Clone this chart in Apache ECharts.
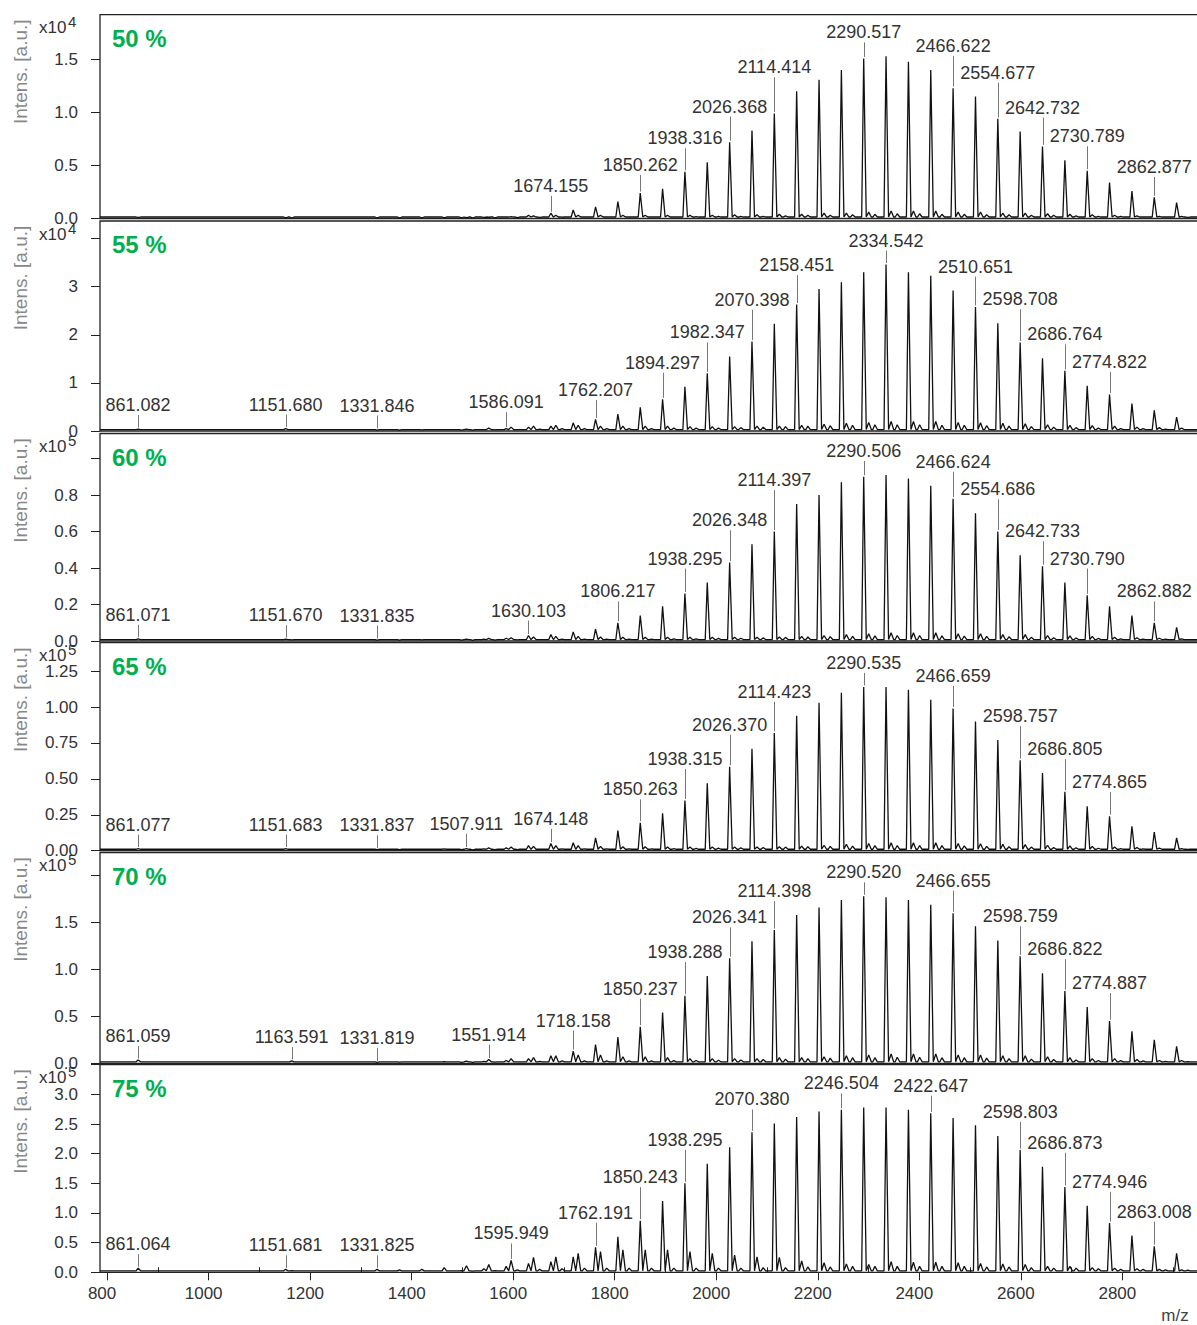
<!DOCTYPE html>
<html><head><meta charset="utf-8">
<script src="https://cdn.jsdelivr.net/npm/echarts@6/dist/echarts.min.js"></script>
<style>html,body{margin:0;padding:0;background:#fff}#c{width:1197px;height:1325px}</style>
</head><body><div id="c"></div>
<script>
// ---------------- DATA ----------------
// main oligomer series (m/z)
const mainMz = [1498.0, 1542.1, 1586.1, 1630.1, 1674.2, 1718.2, 1762.2, 1806.2, 1850.3, 1894.3, 1938.3, 1982.3, 2026.4, 2070.4, 2114.4, 2158.4, 2202.5, 2246.5, 2290.5, 2334.5, 2378.6, 2422.6, 2466.6, 2510.7, 2554.7, 2598.7, 2642.7, 2686.8, 2730.8, 2774.8, 2818.9, 2862.9, 2906.9];
// satellite (adduct) series (m/z)
const satMz = [1331.8, 1375.8, 1419.9, 1463.9, 1507.9, 1551.9, 1595.9, 1640.0, 1684.0, 1728.0, 1772.0, 1816.1, 1860.1, 1904.1, 1948.2, 1992.2, 2036.2, 2080.3, 2124.3, 2168.3, 2212.4, 2256.4, 2300.4, 2344.5, 2388.5, 2432.5, 2476.6, 2520.6, 2564.6, 2608.7, 2652.7, 2696.7, 2740.8, 2784.8, 2828.8, 2872.9, 2916.9];
// second, weaker satellite series (m/z)
const sat2Mz = [1520.0, 1564.1, 1608.1, 1652.1, 1696.2, 1740.2, 1784.2, 1828.2, 1872.3, 1916.3, 1960.3, 2004.3, 2048.4, 2092.4, 2136.4, 2180.4, 2224.5, 2268.5, 2312.5, 2356.5, 2400.6, 2444.6, 2488.6, 2532.7, 2576.7, 2620.7, 2664.7, 2708.8, 2752.8, 2796.8, 2840.9, 2884.9, 2928.9];
// isolated low-mass peaks (m/z)
const otherMz = [861.07, 1151.68, 1163.59];

// intensities (in units of the panel's axis multiplier)
const main50 = [0.005, 0.01, 0.015, 0.03, 0.05, 0.08, 0.11, 0.16, 0.24, 0.28, 0.44, 0.53, 0.72, 0.83, 0.99, 1.20, 1.31, 1.40, 1.51, 1.53, 1.48, 1.40, 1.23, 1.15, 0.94, 0.82, 0.68, 0.55, 0.45, 0.34, 0.26, 0.20, 0.15];
const main55 = [0.02, 0.03, 0.05, 0.08, 0.10, 0.17, 0.24, 0.35, 0.49, 0.66, 0.92, 1.20, 1.55, 1.86, 2.23, 2.63, 2.95, 3.09, 3.30, 3.46, 3.30, 3.23, 2.92, 2.58, 2.24, 1.84, 1.51, 1.25, 0.94, 0.76, 0.57, 0.43, 0.29];
const main60 = [0.005, 0.01, 0.015, 0.03, 0.035, 0.05, 0.065, 0.10, 0.14, 0.19, 0.26, 0.32, 0.43, 0.53, 0.60, 0.75, 0.80, 0.87, 0.90, 0.91, 0.89, 0.85, 0.78, 0.70, 0.60, 0.47, 0.41, 0.32, 0.25, 0.19, 0.14, 0.10, 0.075];
const main65 = [0.008, 0.012, 0.02, 0.035, 0.05, 0.055, 0.09, 0.14, 0.195, 0.26, 0.35, 0.47, 0.585, 0.71, 0.82, 0.94, 1.03, 1.10, 1.14, 1.14, 1.12, 1.05, 0.99, 0.90, 0.77, 0.63, 0.54, 0.41, 0.31, 0.24, 0.17, 0.13, 0.09];
const main70 = [0.01, 0.02, 0.03, 0.05, 0.08, 0.13, 0.20, 0.28, 0.39, 0.54, 0.72, 0.93, 1.12, 1.30, 1.42, 1.58, 1.66, 1.74, 1.78, 1.77, 1.74, 1.69, 1.60, 1.46, 1.31, 1.14, 0.96, 0.77, 0.60, 0.45, 0.34, 0.25, 0.18];
const main75 = [0.03, 0.06, 0.10, 0.15, 0.18, 0.26, 0.42, 0.60, 0.87, 1.20, 1.50, 1.83, 2.11, 2.36, 2.51, 2.62, 2.71, 2.74, 2.78, 2.78, 2.74, 2.68, 2.60, 2.48, 2.30, 2.06, 1.78, 1.44, 1.12, 0.83, 0.62, 0.44, 0.32];

const sat50 = [0.005, 0.004, 0.005, 0.006, 0.008, 0.012, 0.018, 0.025, 0.03, 0.03, 0.03, 0.03, 0.03, 0.03, 0.03, 0.03, 0.035, 0.035, 0.04, 0.04, 0.05, 0.05, 0.06, 0.07, 0.07, 0.07, 0.06, 0.06, 0.05, 0.05, 0.045, 0.04, 0.035, 0.03, 0.025, 0.02, 0.02];
const sat55 = [0.02, 0.02, 0.025, 0.03, 0.04, 0.06, 0.08, 0.10, 0.12, 0.12, 0.10, 0.10, 0.10, 0.10, 0.09, 0.09, 0.09, 0.10, 0.10, 0.12, 0.14, 0.16, 0.18, 0.20, 0.20, 0.20, 0.18, 0.17, 0.16, 0.15, 0.13, 0.12, 0.11, 0.10, 0.08, 0.07, 0.06];
const sat60 = [0.005, 0.005, 0.006, 0.008, 0.01, 0.014, 0.018, 0.022, 0.025, 0.025, 0.022, 0.02, 0.02, 0.02, 0.02, 0.02, 0.02, 0.02, 0.022, 0.025, 0.03, 0.035, 0.04, 0.045, 0.045, 0.045, 0.04, 0.04, 0.035, 0.035, 0.03, 0.028, 0.025, 0.02, 0.018, 0.015, 0.012];
const sat65 = [0.008, 0.008, 0.01, 0.012, 0.015, 0.02, 0.025, 0.03, 0.035, 0.035, 0.03, 0.028, 0.027, 0.026, 0.025, 0.025, 0.025, 0.026, 0.028, 0.032, 0.038, 0.045, 0.05, 0.055, 0.055, 0.055, 0.05, 0.048, 0.045, 0.042, 0.038, 0.034, 0.03, 0.026, 0.022, 0.018, 0.015];
const sat70 = [0.01, 0.012, 0.015, 0.018, 0.022, 0.04, 0.05, 0.06, 0.08, 0.09, 0.09, 0.07, 0.07, 0.06, 0.05, 0.05, 0.05, 0.05, 0.06, 0.06, 0.07, 0.08, 0.09, 0.10, 0.10, 0.10, 0.09, 0.09, 0.08, 0.08, 0.07, 0.06, 0.05, 0.05, 0.04, 0.03, 0.03];
const sat75 = [0.05, 0.04, 0.05, 0.08, 0.11, 0.13, 0.20, 0.25, 0.26, 0.32, 0.35, 0.38, 0.38, 0.38, 0.35, 0.32, 0.29, 0.26, 0.25, 0.19, 0.16, 0.14, 0.13, 0.18, 0.17, 0.17, 0.16, 0.15, 0.14, 0.13, 0.10, 0.10, 0.08, 0.07, 0.06, 0.05, 0.04];

const s2_50 = [0.004, 0.005, 0.008, 0.01, 0.012, 0.015, 0.015, 0.015, 0.015, 0.015, 0.018, 0.02, 0.02, 0.02, 0.025, 0.03, 0.03, 0.035, 0.04, 0.045, 0.045, 0.04, 0.04, 0.035, 0.035, 0.03, 0.03, 0.025, 0.02, 0.02, 0.015, 0.015, 0.01];
const s2_55 = [0.02, 0.025, 0.03, 0.04, 0.05, 0.05, 0.05, 0.05, 0.05, 0.06, 0.06, 0.06, 0.07, 0.08, 0.09, 0.10, 0.11, 0.12, 0.13, 0.13, 0.13, 0.12, 0.12, 0.11, 0.10, 0.09, 0.08, 0.07, 0.06, 0.05, 0.05, 0.04, 0.03];
const s2_60 = [0.004, 0.005, 0.006, 0.008, 0.01, 0.01, 0.01, 0.01, 0.01, 0.012, 0.012, 0.014, 0.015, 0.017, 0.02, 0.022, 0.024, 0.026, 0.028, 0.03, 0.03, 0.028, 0.027, 0.025, 0.023, 0.02, 0.018, 0.016, 0.014, 0.012, 0.01, 0.01, 0.008];
const s2_65 = [0.006, 0.007, 0.008, 0.01, 0.012, 0.012, 0.012, 0.012, 0.013, 0.015, 0.016, 0.018, 0.02, 0.022, 0.025, 0.028, 0.03, 0.032, 0.035, 0.036, 0.036, 0.035, 0.033, 0.03, 0.028, 0.025, 0.022, 0.02, 0.017, 0.015, 0.013, 0.011, 0.009];
const s2_70 = [0.01, 0.012, 0.015, 0.02, 0.025, 0.025, 0.025, 0.025, 0.025, 0.028, 0.03, 0.032, 0.035, 0.04, 0.045, 0.05, 0.055, 0.06, 0.06, 0.065, 0.065, 0.06, 0.06, 0.055, 0.05, 0.045, 0.04, 0.035, 0.03, 0.028, 0.025, 0.02, 0.018];
const s2_75 = [0.02, 0.03, 0.04, 0.05, 0.06, 0.07, 0.07, 0.07, 0.07, 0.07, 0.07, 0.07, 0.07, 0.08, 0.08, 0.09, 0.09, 0.10, 0.10, 0.10, 0.10, 0.10, 0.10, 0.09, 0.09, 0.08, 0.07, 0.07, 0.06, 0.05, 0.05, 0.04, 0.035];

const other50 = [0.01, 0.006, 0.004];
const other55 = [0.04, 0.05, 0.03];
const other60 = [0.012, 0.01, 0.006];
const other65 = [0.015, 0.015, 0.01];
const other70 = [0.035, 0.015, 0.025];
const other75 = [0.07, 0.05, 0.03];

const baseline = [0.014, 0.03, 0.008, 0.01, 0.016, 0.025];

// annotated peaks
const labels50 = ['1674.155', '1850.262', '1938.316', '2026.368', '2114.414', '2290.517', '2466.622', '2554.677', '2642.732', '2730.789', '2862.877'];
const labels55 = ['861.082', '1151.680', '1331.846', '1586.091', '1762.207', '1894.297', '1982.347', '2070.398', '2158.451', '2334.542', '2510.651', '2598.708', '2686.764', '2774.822'];
const labels60 = ['861.071', '1151.670', '1331.835', '1630.103', '1806.217', '1938.295', '2026.348', '2114.397', '2290.506', '2466.624', '2554.686', '2642.733', '2730.790', '2862.882'];
const labels65 = ['861.077', '1151.683', '1331.837', '1507.911', '1674.148', '1850.263', '1938.315', '2026.370', '2114.423', '2290.535', '2466.659', '2598.757', '2686.805', '2774.865'];
const labels70 = ['861.059', '1163.591', '1331.819', '1551.914', '1718.158', '1850.237', '1938.288', '2026.341', '2114.398', '2290.520', '2466.655', '2598.759', '2686.822', '2774.887'];
const labels75 = ['861.064', '1151.681', '1331.825', '1595.949', '1762.191', '1850.243', '1938.295', '2070.380', '2246.504', '2422.647', '2598.803', '2686.873', '2774.946', '2863.008'];

const panelNames = ['50 %', '55 %', '60 %', '65 %', '70 %', '75 %'];
const exponents = ['4', '4', '5', '5', '5', '5'];

// axis ticks
const xTickValues = [800, 1000, 1200, 1400, 1600, 1800, 2000, 2200, 2400, 2600, 2800];
const xTickLabels = ['800', '1000', '1200', '1400', '1600', '1800', '2000', '2200', '2400', '2600', '2800'];
const xMinorTicks = [900, 1100, 1300, 1500, 1700, 1900, 2100, 2300, 2500, 2700, 2900];
const yTicks = [
  [0, 0.5, 1.0, 1.5],
  [0, 1, 2, 3, 4],
  [0, 0.2, 0.4, 0.6, 0.8, 1.0],
  [0, 0.25, 0.5, 0.75, 1.0, 1.25],
  [0, 0.5, 1.0, 1.5, 2.0],
  [0, 0.5, 1.0, 1.5, 2.0, 2.5, 3.0, 3.5]
];
const yTickLabels = [
  ['0.0', '0.5', '1.0', '1.5'],
  ['0', '1', '2', '3', ''],
  ['0.0', '0.2', '0.4', '0.6', '0.8', ''],
  ['0.00', '0.25', '0.50', '0.75', '1.00', '1.25'],
  ['0.0', '0.5', '1.0', '1.5', ''],
  ['0.0', '0.5', '1.0', '1.5', '2.0', '2.5', '3.0', '']
];

// ---------------- LAYOUT / STYLE ----------------
const FONT = '"Liberation Sans", Arial, sans-serif';
const xMin = 786, xMax = 2953;
const layout = [
  {top: 14.7, zero: 218.5, max: 1.923, minor: 0.1},
  {top: 221, zero: 431, max: 4.366, minor: 0.2},
  {top: 433.5, zero: 641, max: 1.137, minor: 0.05},
  {top: 642.7, zero: 850.7, max: 1.448, minor: 0.05},
  {top: 852.5, zero: 1063.3, max: 2.247, minor: 0.1},
  {top: 1064.5, zero: 1272.3, max: 3.504, minor: 0.1}
];
const mains = [main50, main55, main60, main65, main70, main75];
const sats = [sat50, sat55, sat60, sat65, sat70, sat75];
const sats2 = [s2_50, s2_55, s2_60, s2_65, s2_70, s2_75];
const others = [other50, other55, other60, other65, other70, other75];
const labelSets = [labels50, labels55, labels60, labels65, labels70, labels75];

const mctx = document.createElement('canvas').getContext('2d');
mctx.font = '18px ' + FONT;
function textW(t) { return mctx.measureText(t).width; }

function peakList(k) {
  const pk = [];
  mainMz.forEach((m, i) => pk.push([m, mains[k][i]]));
  satMz.forEach((m, i) => pk.push([m, sats[k][i]]));
  sat2Mz.forEach((m, i) => pk.push([m, sats2[k][i]]));
  otherMz.forEach((m, i) => pk.push([m, others[k][i]]));
  pk.sort((a, b) => a[0] - b[0]);
  return pk;
}
function spectrum(pk, base) {
  const pts = [[xMin, base]];
  pk.forEach(([m, h]) => { pts.push([m - 4, base], [m, h], [m + 5, base]); });
  pts.push([xMax, base]);
  return pts;
}
function labelData(pk, labels) {
  return labels.map(t => {
    const m = parseFloat(t);
    let best = pk[0];
    pk.forEach(p => { if (Math.abs(p[0] - m) < Math.abs(best[0] - m)) best = p; });
    return [m, best[1]];
  });
}
function makeRender(pk, labels, base) {
  return function (params, api) {
    const i = params.dataIndex;
    const p = api.coord([api.value(0), api.value(1)]);
    const txt = labels[i];
    const half = textW(txt) / 2 + 1;
    let top = api.coord([api.value(0), base])[1];
    pk.forEach(q => {
      const c = api.coord(q);
      if (Math.abs(c[0] - p[0]) <= half && c[1] < top) top = c[1];
    });
    const cy = top - 24;
    const x = Math.round(p[0]) + 0.5;
    const children = [];
    const y1 = cy + 10, y2 = p[1] - 1.5;
    if (y2 > y1) children.push({type: 'line', shape: {x1: x, y1: y1, x2: x, y2: y2}, style: {stroke: '#777', lineWidth: 1}});
    children.push({type: 'text', style: {text: txt, x: p[0], y: cy, align: 'center', verticalAlign: 'middle', fill: '#333', fontSize: 18, fontFamily: FONT}});
    return {type: 'group', children: children};
  };
}

const grids = [], xAxes = [], yAxes = [], series = [], graphics = [];
layout.forEach((L, k) => {
  const last = k === layout.length - 1;
  grids.push({left: 100, right: -3, top: L.top, height: L.zero - L.top, show: true, borderColor: '#222', borderWidth: 1.3, backgroundColor: 'transparent', containLabel: false, outerBoundsMode: 'none'});
  xAxes.push({
    gridIndex: k, type: 'value', min: xMin, max: xMax,
    axisLine: {show: false}, splitLine: {show: false},
    axisTick: {show: last, length: 8, customValues: xTickValues, lineStyle: {color: '#222', width: 1}},
    axisLabel: {show: last, customValues: xTickValues, margin: 13, fontSize: 17, color: '#333', fontFamily: FONT, padding: [0, 10, 0, 0],
      formatter: v => { const i = xTickValues.indexOf(Math.round(v)); return i >= 0 ? xTickLabels[i] : ''; }}
  });
  const ticks = yTicks[k], tl = yTickLabels[k];
  yAxes.push({
    gridIndex: k, type: 'value', min: 0, max: L.max,
    axisLine: {show: false}, splitLine: {show: false},
    axisTick: {show: true, length: 9, customValues: ticks, lineStyle: {color: '#222', width: 1}},
    axisLabel: {show: true, customValues: ticks, margin: 22, fontSize: 17, color: '#333', fontFamily: FONT,
      formatter: v => { for (let i = 0; i < ticks.length; i++) if (Math.abs(ticks[i] - v) < 1e-6) return tl[i]; return ''; }}
  });
  yAxes.push({
    gridIndex: k, type: 'value', min: 0, max: L.max, interval: L.minor,
    axisLine: {show: false}, splitLine: {show: false}, axisLabel: {show: false},
    axisTick: {show: true, length: 4, lineStyle: {color: '#222', width: 1}}
  });
  const pk = peakList(k);
  series.push({type: 'line', xAxisIndex: k, yAxisIndex: 2 * k, data: spectrum(pk, baseline[k]), symbol: 'none',
    lineStyle: {color: '#111', width: 1.3}, silent: true, animation: false, clip: true, z: 3});
  series.push({type: 'custom', xAxisIndex: k, yAxisIndex: 2 * k, data: labelData(pk, labelSets[k]),
    renderItem: makeRender(pk, labelSets[k], baseline[k]), silent: true, animation: false, clip: false, z: 5});

  graphics.push({type: 'text', x: 112, y: L.top + 23.5, style: {text: panelNames[k], fill: '#00b050', fontSize: 24, fontWeight: 'bold', fontFamily: FONT, verticalAlign: 'middle', align: 'left'}});
  graphics.push({type: 'text', x: 39, y: L.top + 13, style: {text: 'x10', fill: '#333', fontSize: 17, fontFamily: FONT, verticalAlign: 'middle', align: 'left'}});
  graphics.push({type: 'text', x: 68, y: L.top + 7, style: {text: exponents[k], fill: '#333', fontSize: 15, fontFamily: FONT, verticalAlign: 'middle', align: 'left'}});
  graphics.push({type: 'text', x: 20, y: L.top + 57, rotation: Math.PI / 2, style: {text: 'Intens. [a.u.]', fill: '#888', fontSize: 19, fontFamily: FONT, verticalAlign: 'middle', align: 'center'}});
});
// minor ticks on the bottom axis
xAxes.push({
  gridIndex: 5, type: 'value', min: xMin, max: xMax,
  axisLine: {show: false}, splitLine: {show: false}, axisLabel: {show: false},
  axisTick: {show: true, length: 5, customValues: xMinorTicks, lineStyle: {color: '#222', width: 1}}
});
graphics.push({type: 'text', x: 1175, y: 1315, style: {text: 'm/z', fill: '#444', fontSize: 17, fontFamily: FONT, verticalAlign: 'middle', align: 'center'}});

const chart = echarts.init(document.getElementById('c'), null, {renderer: 'svg', width: 1197, height: 1325});
chart.setOption({
  animation: false,
  backgroundColor: '#fff',
  grid: grids, xAxis: xAxes, yAxis: yAxes, series: series, graphic: graphics
});
</script>
</body></html>
